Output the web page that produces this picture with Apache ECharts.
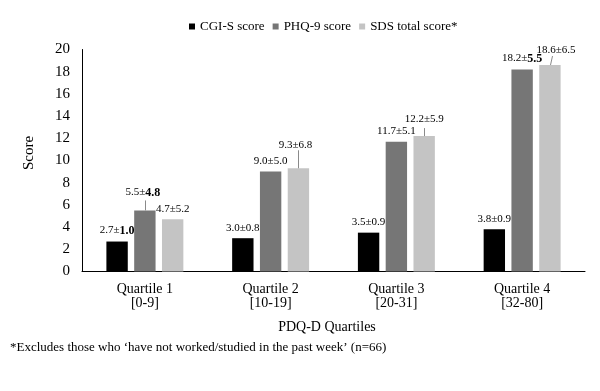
<!DOCTYPE html>
<html>
<head>
<meta charset="utf-8">
<script src="https://cdn.jsdelivr.net/npm/echarts@6/dist/echarts.min.js"></script>
<style>html,body{margin:0;padding:0;background:#fff}#chart{width:600px;height:391px}</style>
</head>
<body>
<div id="chart"></div>
<script>
const categories = ['Quartile 1\n[0-9]', 'Quartile 2\n[10-19]', 'Quartile 3\n[20-31]', 'Quartile 4\n[32-80]'];
const seriesNames = ['CGI-S score', 'PHQ-9 score', 'SDS total score*'];
const cgiMean = [2.7, 3.0, 3.5, 3.8];
const cgiSd = [1.0, 0.8, 0.9, 0.9];
const phqMean = [5.5, 9.0, 11.7, 18.2];
const phqSd = [4.8, 5.0, 5.1, 5.5];
const sdsMean = [4.7, 9.3, 12.2, 18.6];
const sdsSd = [5.2, 6.8, 5.9, 6.5];
const xAxisTitle = 'PDQ-D Quartiles';
const yAxisTitle = 'Score';
const footnote = '*Excludes those who \u2018have not worked/studied in the past week\u2019 (n=66)';

const FONT = "Liberation Serif";
const colors = ['#000000', '#767676', '#c4c4c4'];
const BAR_W = 0.17, BAR_GAP = 0.30;

// label callout layout (style only): series index, data index, lift px, leader length px, leader dx, label dx
const callouts = [
  { s: 1, i: 0, lift: 7, len: 10, dx: 0, ldx: -2 },
  { s: 2, i: 1, lift: 13, len: 18, dx: 0, ldx: -3 },
  { s: 2, i: 2, lift: 6, len: 8, dx: 0, ldx: 0 },
  { s: 2, i: 3, lift: 4, len: 9, dx: 2, ldx: 6 }
];
// SD parts rendered in bolder face (style only)
const boldSd = { '0-0': true, '1-0': true, '1-3': true };

const means = [cgiMean, phqMean, sdsMean];
const sds = [cgiSd, phqSd, sdsSd];

function buildSeries(si) {
  const data = means[si].map((v, i) => {
    const item = { value: v };
    const c = callouts.find(o => o.s === si && o.i === i);
    if (c) item.label = { offset: [c.ldx, -c.lift] };
    return item;
  });
  return {
    name: seriesNames[si],
    type: 'bar',
    barWidth: (BAR_W * 100) + '%',
    barGap: (BAR_GAP * 100) + '%',
    itemStyle: { color: colors[si] },
    data: data,
    label: {
      show: true,
      position: 'top',
      distance: 5,
      color: '#000',
      fontFamily: FONT,
      fontSize: 11,
      formatter: p => {
        const m = means[si][p.dataIndex].toFixed(1);
        const s = sds[si][p.dataIndex].toFixed(1);
        if (boldSd[si + '-' + p.dataIndex]) return '{n|' + m + '\u00b1}{b|' + s + '}';
        return '{n|' + m + '\u00b1' + s + '}';
      },
      rich: {
        n: { fontFamily: FONT, fontSize: 11, color: '#000' },
        b: { fontFamily: FONT, fontSize: 12, fontWeight: 'bold', color: '#000' }
      }
    }
  };
}

const leaderData = callouts.map(c => [c.i, means[c.s][c.i], c.s, c.len, c.dx]);

const chart = echarts.init(document.getElementById('chart'), null, { renderer: 'canvas' });
chart.setOption({
  animation: false,
  backgroundColor: '#fff',
  textStyle: { fontFamily: FONT },
  legend: {
    data: seriesNames,
    left: 184,
    top: 15,
    icon: 'rect',
    itemWidth: 6,
    itemHeight: 6,
    itemGap: 8,
    formatter: name => '{t|' + name + '}',
    textStyle: {
      fontFamily: FONT, fontSize: 13, color: '#000',
      rich: { t: { fontFamily: FONT, fontSize: 13, color: '#000' } }
    }
  },
  grid: { left: 82, right: 15, top: 49.5, bottom: 119.5 },
  xAxis: {
    type: 'category',
    data: categories,
    axisLine: { show: true, lineStyle: { color: '#000', width: 1 } },
    axisTick: { show: false },
    axisLabel: { color: '#000', fontFamily: FONT, fontSize: 14, lineHeight: 14, margin: 11 }
  },
  yAxis: {
    type: 'value',
    min: 0,
    max: 20,
    interval: 2,
    splitLine: { show: false },
    axisLine: { show: true, lineStyle: { color: '#000', width: 1 } },
    axisTick: { show: false },
    axisLabel: { color: '#000', fontFamily: FONT, fontSize: 15, margin: 12 }
  },
  series: [
    buildSeries(0),
    buildSeries(1),
    buildSeries(2),
    {
      type: 'custom',
      name: 'leaders',
      silent: true,
      z: 5,
      encode: { x: 0, y: 1 },
      data: leaderData,
      renderItem: function (params, api) {
        const cat = api.value(0), val = api.value(1), sIdx = api.value(2), len = api.value(3), dx = api.value(4);
        const p = api.coord([cat, val]);
        const band = api.size([1, 0])[0];
        const w = band * BAR_W, step = w * (1 + BAR_GAP);
        const x = Math.round(p[0] + (sIdx - 1) * step) + 0.5;
        return {
          type: 'line',
          shape: { x1: x, y1: p[1], x2: x + dx, y2: p[1] - len },
          style: { stroke: '#8a8a8a', lineWidth: 1 }
        };
      }
    }
  ],
  graphic: [
    { type: 'text', position: [29, 153], rotation: Math.PI / 2,
      style: { text: yAxisTitle, fontFamily: FONT, fontSize: 15, fill: '#000', align: 'center', verticalAlign: 'middle' } },
    { type: 'text', position: [327, 327],
      style: { text: xAxisTitle, fontFamily: FONT, fontSize: 14, fill: '#000', align: 'center', verticalAlign: 'middle' } },
    { type: 'text', position: [10, 348],
      style: { text: footnote, fontFamily: FONT, fontSize: 13, fill: '#000', align: 'left', verticalAlign: 'middle' } }
  ]
});
</script>
</body>
</html>
